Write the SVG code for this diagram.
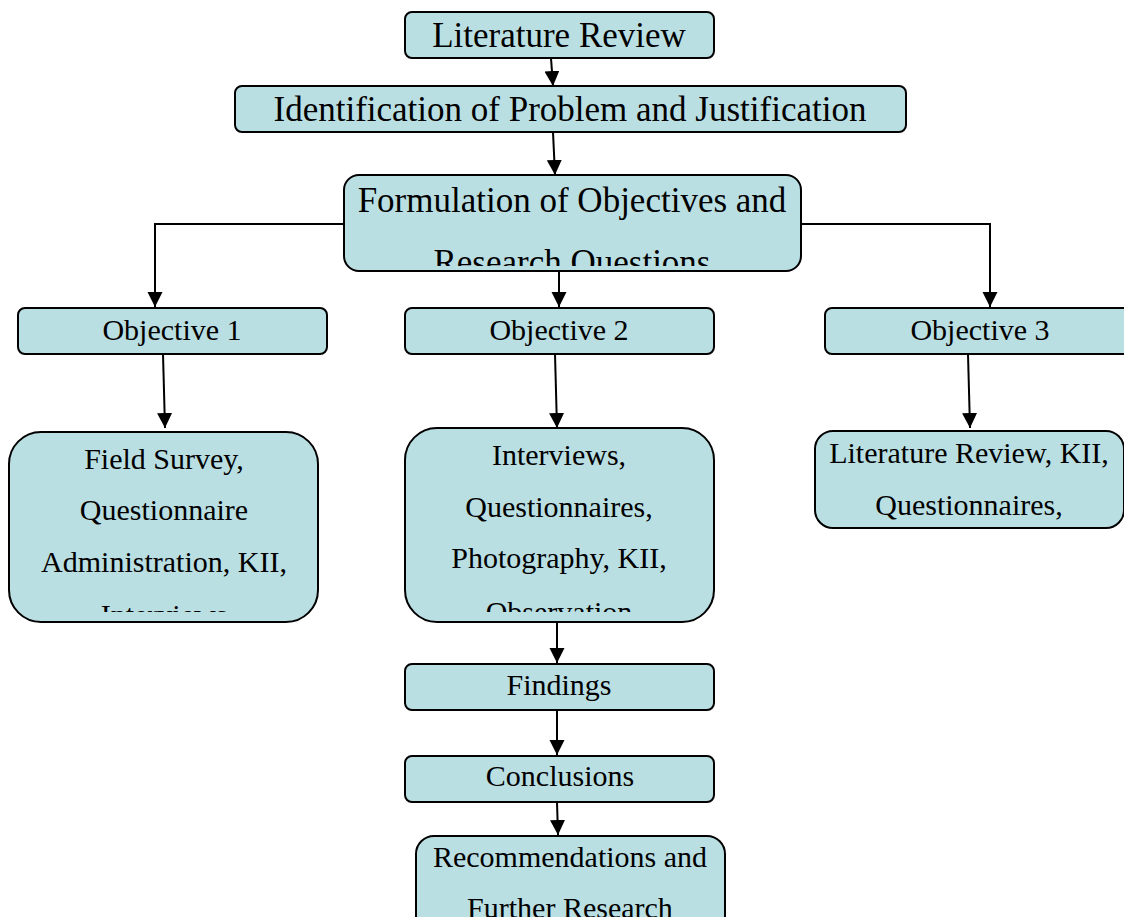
<svg xmlns="http://www.w3.org/2000/svg" width="1124" height="917" viewBox="0 0 1124 917">
<style>
.box{fill:#badfe3;stroke:#000;stroke-width:2}
.t{font-family:"Liberation Serif","Times New Roman",serif;fill:#000;text-anchor:middle}
.big{font-size:35px}
.sm{font-size:30px}
.c{fill:none;stroke:#000;stroke-width:2}
</style>
<defs>
<marker id="ah" markerUnits="userSpaceOnUse" markerWidth="16" markerHeight="16" refX="15" refY="7.5" orient="auto" viewBox="0 0 16 16">
<path d="M0,0 L15,7.5 L0,15 Z" fill="#000"/>
</marker>
<clipPath id="cpF"><rect x="345" y="176" width="455" height="90"/></clipPath>
<clipPath id="cpFS"><rect x="10" y="433" width="307" height="179"/></clipPath>
<clipPath id="cpI"><rect x="406" y="429" width="307" height="183"/></clipPath>
<clipPath id="cpR"><rect x="417" y="837" width="307" height="80"/></clipPath>
</defs>
<rect width="1124" height="917" fill="#fff"/>
<g id="connectors">
<path class="c" d="M551,58 L553,86" marker-end="url(#ah)"/>
<path class="c" d="M553,132 L555,175" marker-end="url(#ah)"/>
<path class="c" d="M344,224 L155,224 L155,307" marker-end="url(#ah)"/>
<path class="c" d="M801,224 L990,224 L990,307" marker-end="url(#ah)"/>
<path class="c" d="M559,271 L559,307" marker-end="url(#ah)"/>
<path class="c" d="M163,354 L165,428" marker-end="url(#ah)"/>
<path class="c" d="M555,354 L557,428" marker-end="url(#ah)"/>
<path class="c" d="M968,354 L970,428" marker-end="url(#ah)"/>
<path class="c" d="M557,622 L557,663" marker-end="url(#ah)"/>
<path class="c" d="M557,710 L557,755" marker-end="url(#ah)"/>
<path class="c" d="M557,802 L558,835" marker-end="url(#ah)"/>
</g>
<g id="litreview">
<rect class="box" x="405" y="12" width="309" height="46" rx="7"/>
<text class="t big" x="559" y="47">Literature Review</text>
</g>
<g id="identification">
<rect class="box" x="235" y="86" width="671" height="46" rx="7"/>
<text class="t big" x="570" y="121">Identification of Problem and Justification</text>
</g>
<g id="formulation">
<rect class="box" x="344" y="175" width="457" height="96" rx="15"/>
<g clip-path="url(#cpF)">
<text class="t big" x="572" y="212">Formulation of Objectives and</text>
<text class="t big" x="572" y="274">Research Questions</text>
</g>
</g>
<g id="objective1">
<rect class="box" x="18" y="308" width="309" height="46" rx="7"/>
<text class="t sm" x="172" y="340">Objective 1</text>
</g>
<g id="objective2">
<rect class="box" x="405" y="308" width="309" height="46" rx="7"/>
<text class="t sm" x="559" y="340">Objective 2</text>
</g>
<g id="objective3">
<rect class="box" x="825" y="308" width="309" height="46" rx="7"/>
<text class="t sm" x="980" y="340">Objective 3</text>
</g>
<g id="fieldsurvey">
<rect class="box" x="9" y="432" width="309" height="190" rx="32"/>
<g clip-path="url(#cpFS)">
<text class="t sm" x="164" y="469">Field Survey,</text>
<text class="t sm" x="164" y="520">Questionnaire</text>
<text class="t sm" x="164" y="572">Administration, KII,</text>
<text class="t sm" x="164" y="625">Interviews</text>
</g>
</g>
<g id="interviews">
<rect class="box" x="405" y="428" width="309" height="194" rx="32"/>
<g clip-path="url(#cpI)">
<text class="t sm" x="559" y="465">Interviews,</text>
<text class="t sm" x="559" y="517">Questionnaires,</text>
<text class="t sm" x="559" y="568">Photography, KII,</text>
<text class="t sm" x="559" y="622">Observation</text>
</g>
</g>
<g id="litkii">
<rect class="box" x="815" y="431" width="309" height="97" rx="18"/>
<text class="t sm" x="969" y="463">Literature Review, KII,</text>
<text class="t sm" x="969" y="515">Questionnaires,</text>
</g>
<g id="findings">
<rect class="box" x="405" y="664" width="309" height="46" rx="7"/>
<text class="t sm" x="559" y="695">Findings</text>
</g>
<g id="conclusions">
<rect class="box" x="405" y="756" width="309" height="46" rx="7"/>
<text class="t sm" x="560" y="786">Conclusions</text>
</g>
<g id="recommendations">
<rect class="box" x="416" y="836" width="309" height="100" rx="18"/>
<g clip-path="url(#cpR)">
<text class="t sm" x="570" y="867">Recommendations and</text>
<text class="t sm" x="570" y="918">Further Research</text>
</g>
</g>
</svg>
